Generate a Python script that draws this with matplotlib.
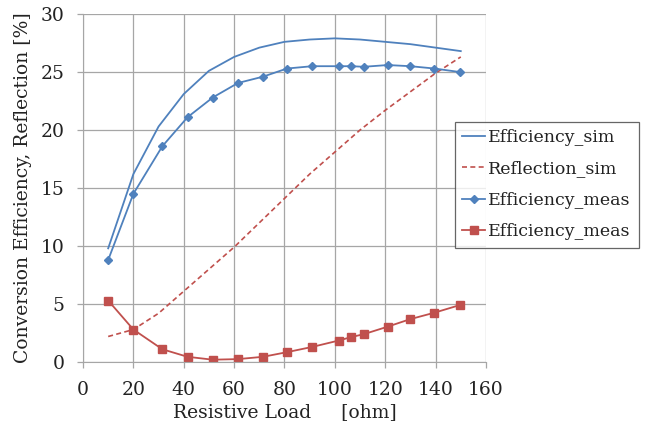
import matplotlib
matplotlib.use("Agg")
import matplotlib.pyplot as plt

# Simulation curves
x_sim = [10, 20, 30, 40, 50, 60, 70, 80, 90, 100, 110, 120, 130, 140, 150]
eff_sim = [9.8, 16.2, 20.3, 23.1, 25.1, 26.3, 27.1, 27.6, 27.8, 27.9, 27.8, 27.6, 27.4, 27.1, 26.8]
refl_sim = [2.2, 2.8, 4.2, 6.1, 8.0, 9.9, 12.0, 14.1, 16.2, 18.1, 20.0, 21.7, 23.3, 24.9, 26.3]

# Measurements
x_meas = [10, 20, 31.5, 41.5, 51.5, 61.5, 71.5, 81, 91, 101.5, 106.5, 111.5, 121, 130, 139.5, 149.5]
eff_meas = [8.8, 14.5, 18.6, 21.1, 22.8, 24.05, 24.6, 25.3, 25.5, 25.5, 25.5, 25.45, 25.6, 25.5, 25.3, 25.0]
refl_meas = [5.3, 2.8, 1.1, 0.45, 0.2, 0.25, 0.45, 0.85, 1.3, 1.85, 2.15, 2.4, 3.05, 3.7, 4.25, 4.9]

x_ticks = [0, 20, 40, 60, 80, 100, 120, 140, 160]
y_ticks = [0, 5, 10, 15, 20, 25, 30]

plt.rcParams['font.family'] = ['DejaVu Serif']
BLUE = '#4F81BD'
RED = '#C0504D'
GRID = '#A6A6A6'

fig = plt.figure(figsize=(6.51, 4.32), dpi=100)
ax = fig.add_axes([0.1275, 0.162, 0.619, 0.8056])

l1, = ax.plot(x_sim, eff_sim, color=BLUE, lw=1.3, label='Efficiency_sim')
l2, = ax.plot(x_sim, refl_sim, color=RED, lw=1.2, ls=(0, (3, 2)), label='Reflection_sim')
l3, = ax.plot(x_meas, eff_meas, color=BLUE, lw=1.3, marker='D', ms=4.5, label='Efficiency_meas')
l4, = ax.plot(x_meas, refl_meas, color=RED, lw=1.3, marker='s', ms=5.5, label='Efficiency_meas')

ax.set_xlim(0, 160)
ax.set_ylim(0, 30)
ax.set_xticks(x_ticks)
ax.set_yticks(y_ticks)
ax.grid(True, color=GRID, lw=0.9)
ax.set_axisbelow(True)
for s in ['top', 'right']:
    ax.spines[s].set_visible(False)
for s in ['left', 'bottom']:
    ax.spines[s].set_color(GRID)
ax.tick_params(axis='both', colors=GRID, labelcolor='#222222', labelsize=13.5,
               length=4.5, width=0.9, direction='out', pad=9)

ax.set_xlabel('Resistive Load     [ohm]', fontsize=13.5, color='#222222', labelpad=3)
ax.set_ylabel('Conversion Efficiency, Reflection [%]', fontsize=13.5, color='#222222', labelpad=6)

leg = fig.legend(handles=[l1, l2, l3, l4], loc='upper left',
                 bbox_to_anchor=(454.5 / 651, 1 - 121.5 / 432),
                 fontsize=12.5, frameon=True, fancybox=False, borderpad=0.45,
                 handlelength=1.3, handletextpad=0.2, labelspacing=0.82,
                 borderaxespad=0)
leg.get_frame().set_edgecolor('#404040')
leg.get_frame().set_linewidth(0.9)
for t in leg.get_texts():
    t.set_color('#222222')

fig.savefig('out.png', dpi=100)
